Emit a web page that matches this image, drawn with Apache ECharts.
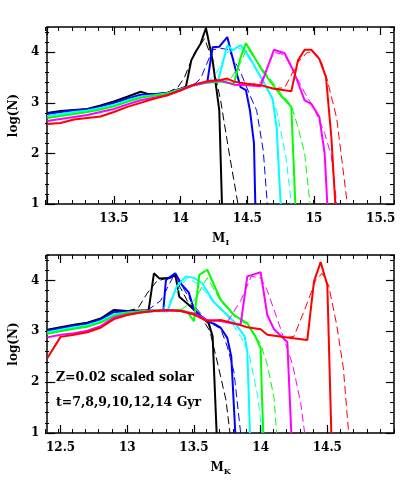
<!DOCTYPE html>
<html><head><meta charset="utf-8">
<script src="https://cdn.jsdelivr.net/npm/echarts@6/dist/echarts.min.js"></script>
<style>html,body{margin:0;padding:0;background:#fff}#c{width:415px;height:485px}</style>
</head><body><div id="c"></div>
<script>
// ---- Data ----
var ageNames = ['7 Gyr','8 Gyr','9 Gyr','10 Gyr','12 Gyr','14 Gyr'];
var ageColors = ['#000000','#0000ff','#00ffff','#00ff00','#ff00ff','#ff0000'];

// Top panel: M_I
var iBlack = [[13.0,2.80],[13.1,2.84],[13.2,2.86],[13.3,2.88],[13.4,2.95],[13.5,3.03],[13.6,3.12],[13.7,3.22],[13.75,3.18],[13.8,3.17],[13.9,3.20],[14.0,3.28],[14.04,3.32],[14.08,3.84],[14.12,4.04],[14.15,4.17],[14.19,4.48],[14.24,3.84],[14.29,2.85],[14.31,1.0]];
var iBlackD = [[13.9,3.20],[13.98,3.31],[14.03,3.51],[14.10,3.97],[14.18,4.27],[14.23,3.90],[14.30,3.05],[14.36,2.07],[14.43,1.0]];
var iBlue = [[13.0,2.78],[13.1,2.82],[13.2,2.85],[13.3,2.87],[13.4,2.93],[13.5,3.00],[13.6,3.08],[13.7,3.16],[13.8,3.17],[13.9,3.19],[14.0,3.27],[14.1,3.36],[14.2,3.41],[14.24,4.10],[14.29,4.11],[14.35,4.30],[14.41,3.68],[14.45,3.31],[14.49,3.25],[14.52,2.85],[14.55,2.2],[14.56,1.0]];
var iBlueD = [[14.1,3.36],[14.15,3.48],[14.24,4.05],[14.3,4.08],[14.36,4.05],[14.45,3.6],[14.52,3.15],[14.57,2.85],[14.62,2.05],[14.65,1.0]];
var iCyan = [[13.0,2.74],[13.1,2.78],[13.2,2.82],[13.3,2.85],[13.4,2.90],[13.5,2.96],[13.6,3.05],[13.7,3.12],[13.8,3.15],[13.9,3.19],[14.0,3.27],[14.1,3.35],[14.2,3.40],[14.28,3.42],[14.35,4.14],[14.39,4.04],[14.45,4.14],[14.5,3.97],[14.6,3.51],[14.69,3.08],[14.72,2.5],[14.75,1.0]];
var iCyanD = [[14.2,3.40],[14.27,3.6],[14.35,4.0],[14.45,4.08],[14.55,3.75],[14.65,3.3],[14.72,2.85],[14.79,1.93],[14.83,1.0]];
var iGreen = [[13.0,2.70],[13.1,2.74],[13.2,2.78],[13.3,2.82],[13.4,2.87],[13.5,2.93],[13.6,3.02],[13.7,3.10],[13.8,3.14],[13.9,3.18],[14.0,3.26],[14.1,3.35],[14.2,3.40],[14.3,3.42],[14.4,3.38],[14.45,3.90],[14.49,4.18],[14.62,3.61],[14.75,3.15],[14.83,2.92],[14.86,1.0]];
var iGreenD = [[14.3,3.42],[14.37,3.45],[14.45,3.8],[14.5,4.08],[14.62,3.65],[14.75,3.2],[14.83,2.95],[14.88,2.52],[14.93,2.0],[14.97,1.0]];
var iMagenta = [[13.0,2.64],[13.1,2.68],[13.2,2.72],[13.3,2.76],[13.4,2.82],[13.5,2.88],[13.6,2.97],[13.7,3.05],[13.8,3.10],[13.9,3.15],[14.0,3.25],[14.1,3.35],[14.2,3.41],[14.3,3.44],[14.4,3.36],[14.5,3.35],[14.6,3.33],[14.7,4.05],[14.78,3.98],[14.85,3.61],[14.93,3.05],[14.98,2.98],[15.04,2.72],[15.08,2.0],[15.1,1.0]];
var iMagentaD = [[14.5,3.35],[14.6,3.4],[14.7,4.0],[14.78,3.95],[14.85,3.6],[14.93,3.2],[15.0,2.9],[15.08,2.4],[15.13,1.95],[15.17,1.0]];
var iRed = [[13.0,2.58],[13.1,2.60],[13.2,2.67],[13.3,2.70],[13.4,2.73],[13.5,2.82],[13.6,2.92],[13.7,3.00],[13.8,3.08],[13.9,3.15],[14.0,3.25],[14.1,3.36],[14.2,3.43],[14.3,3.45],[14.35,3.48],[14.4,3.42],[14.5,3.38],[14.6,3.35],[14.7,3.28],[14.83,3.23],[14.88,3.84],[14.93,4.05],[14.98,4.05],[15.04,3.87],[15.09,3.51],[15.13,2.33],[15.16,1.0]];
var iRedD = [[14.7,3.28],[14.78,3.3],[14.88,3.8],[14.95,4.0],[15.0,4.0],[15.05,3.85],[15.1,3.45],[15.17,2.7],[15.25,1.0]];

// Bottom panel: M_K
var kBlack = [[12.4,3.03],[12.5,3.08],[12.6,3.13],[12.7,3.17],[12.8,3.25],[12.9,3.42],[13.0,3.40],[13.1,3.41],[13.16,3.41],[13.2,4.14],[13.24,4.04],[13.32,4.05],[13.36,4.12],[13.39,3.68],[13.46,3.52],[13.55,3.30],[13.61,3.16],[13.64,2.90],[13.67,1.0]];
var kBlackD = [[13.0,3.40],[13.08,3.45],[13.15,3.75],[13.22,3.98],[13.3,4.05],[13.35,4.1],[13.45,3.6],[13.55,3.3],[13.62,3.0],[13.68,2.34],[13.74,1.65],[13.77,1.0]];
var kBlue = [[12.4,3.01],[12.5,3.06],[12.6,3.11],[12.7,3.15],[12.8,3.23],[12.9,3.38],[13.0,3.39],[13.1,3.40],[13.2,3.41],[13.27,3.40],[13.29,4.01],[13.36,4.14],[13.41,3.91],[13.46,3.77],[13.5,3.43],[13.55,3.30],[13.61,3.18],[13.65,3.15],[13.7,3.07],[13.75,2.87],[13.78,2.5],[13.81,1.0]];
var kBlueD = [[13.15,3.41],[13.25,3.6],[13.35,4.1],[13.42,3.85],[13.5,3.5],[13.6,3.2],[13.7,3.05],[13.75,2.7],[13.8,2.2],[13.85,1.0]];
var kCyan = [[12.4,2.98],[12.5,3.03],[12.6,3.08],[12.7,3.12],[12.8,3.20],[12.9,3.33],[13.0,3.37],[13.1,3.39],[13.2,3.40],[13.3,3.39],[13.37,3.88],[13.44,4.08],[13.5,4.05],[13.56,3.95],[13.65,3.57],[13.75,3.32],[13.8,3.19],[13.88,2.9],[13.9,2.6],[13.92,1.0]];
var kCyanD = [[13.25,3.40],[13.32,3.6],[13.45,4.05],[13.55,3.9],[13.65,3.55],[13.75,3.3],[13.85,2.9],[13.915,2.54],[13.98,1.7],[14.01,1.0]];
var kGreen = [[12.4,2.95],[12.5,3.0],[12.6,3.05],[12.7,3.09],[12.8,3.17],[12.9,3.30],[13.0,3.36],[13.1,3.39],[13.2,3.41],[13.3,3.42],[13.4,3.42],[13.45,3.38],[13.5,3.2],[13.54,4.11],[13.6,4.21],[13.7,3.62],[13.8,3.32],[13.9,3.16],[13.96,2.9],[14.0,2.67],[14.01,1.7],[14.02,1.0]];
var kGreenD = [[13.4,3.42],[13.5,3.6],[13.6,4.05],[13.7,3.6],[13.8,3.3],[13.9,3.12],[14.0,2.75],[14.05,2.34],[14.1,1.7],[14.12,1.0]];
var kMagenta = [[12.4,2.88],[12.5,2.93],[12.6,2.96],[12.7,3.01],[12.8,3.10],[12.9,3.27],[13.0,3.33],[13.1,3.37],[13.2,3.40],[13.3,3.41],[13.4,3.40],[13.5,3.35],[13.6,3.22],[13.7,3.2],[13.8,3.15],[13.85,3.13],[13.9,4.08],[14.0,4.16],[14.05,3.32],[14.1,3.04],[14.2,2.79],[14.23,1.0]];
var kMagentaD = [[13.75,3.18],[13.85,3.6],[13.93,4.08],[14.0,4.05],[14.05,3.8],[14.15,3.05],[14.24,2.34],[14.3,1.6],[14.33,1.0]];
var kRed = [[12.4,2.47],[12.5,2.89],[12.6,2.93],[12.7,2.98],[12.8,3.07],[12.9,3.24],[13.0,3.32],[13.1,3.37],[13.2,3.40],[13.3,3.42],[13.4,3.40],[13.5,3.33],[13.6,3.20],[13.7,3.22],[13.8,3.16],[13.9,3.08],[14.0,3.04],[14.05,2.93],[14.2,2.88],[14.35,2.83],[14.4,3.98],[14.45,4.36],[14.5,3.91],[14.53,1.0]];
var kRedD = [[14.2,2.88],[14.25,2.9],[14.34,3.49],[14.41,3.99],[14.46,4.14],[14.51,3.9],[14.57,3.13],[14.62,2.28],[14.66,1.0]];

// Axis ticks / labels
var iXTicks = [13, 13.5, 14, 14.5, 15, 15.5];
var iXLabels = [13.5, 14, 14.5, 15, 15.5];
var kXTicks = [12.5, 13, 13.5, 14, 14.5];
var kXLabels = [12.5, 13, 13.5, 14, 14.5];
var yTicks = [1, 2, 3, 4];
var noteLines = ['Z=0.02 scaled solar', 't=7,8,9,10,12,14 Gyr'];

var iSolid = [iBlack, iBlue, iCyan, iGreen, iMagenta, iRed];
var iDash = [iBlackD, iBlueD, iCyanD, iGreenD, iMagentaD, iRedD];
var kSolid = [kBlack, kBlue, kCyan, kGreen, kMagenta, kRed];
var kDash = [kBlackD, kBlueD, kCyanD, kGreenD, kMagentaD, kRedD];

// ---- Chart ----
var FONT = 'DejaVu Serif';
var chart = echarts.init(document.getElementById('c'), null, {renderer: 'canvas'});
function fmt(v){ return String(+(+v).toFixed(2)); }

var TICK = {color: '#000', width: 1.2};
var rects = [{left: 45, top: 27, width: 349, height: 177}, {left: 45, top: 255, width: 349, height: 178}];
// grids 0,1: major ticks + data ; grids 2,3: same rectangles, minor ticks only
var grids = rects.concat(rects);

var xAxis = [], yAxis = [];
function majorX(gi, min, max, ticks, labels, sub) {
  var base = {gridIndex: gi, type: 'value', min: min, max: max, splitLine: {show: false}};
  xAxis.push(Object.assign({}, base, {position: 'bottom',
    axisLine: {show: true, onZero: false, lineStyle: {color: '#000', width: 1.5}},
    axisTick: {show: true, inside: true, length: 8, customValues: ticks, lineStyle: TICK},
    axisLabel: {show: true, customValues: labels, formatter: fmt, color: '#000', fontFamily: FONT, fontWeight: 'bold', fontSize: 12, margin: 9},
    name: '{m|M}{s|' + sub + '}', nameLocation: 'middle', nameGap: 27,
    nameTextStyle: {rich: {m: {fontFamily: FONT, fontWeight: 'bold', fontSize: 12, color: '#000'},
                           s: {fontFamily: FONT, fontWeight: 'bold', fontSize: 8, color: '#000', padding: [8, 0, 0, 0]}}}
  }));
  xAxis.push(Object.assign({}, base, {position: 'top',
    axisLine: {show: true, onZero: false, lineStyle: {color: '#000', width: 1.5}}, axisLabel: {show: false},
    axisTick: {show: true, inside: true, length: 8, customValues: ticks, lineStyle: TICK}}));
}
function minorX(gi, min, max) {
  ['bottom', 'top'].forEach(function (p) {
    xAxis.push({gridIndex: gi, type: 'value', min: min, max: max, interval: 0.1, position: p,
      splitLine: {show: false}, axisLine: {show: false, onZero: false}, axisLabel: {show: false},
      axisTick: {show: true, inside: true, length: 4, lineStyle: {color: '#000', width: 1}}});
  });
}
function majorY(gi) {
  var base = {gridIndex: gi, type: 'value', min: 1, max: 4.5, splitLine: {show: false}};
  yAxis.push(Object.assign({}, base, {position: 'left',
    axisLine: {show: true, onZero: false, lineStyle: {color: '#000', width: 1.5}},
    axisTick: {show: true, inside: true, length: 8, customValues: yTicks, lineStyle: TICK},
    axisLabel: {show: true, customValues: yTicks, color: '#000', fontFamily: FONT, fontWeight: 'bold', fontSize: 12, margin: 8},
    name: 'log(N)', nameLocation: 'middle', nameGap: 26,
    nameTextStyle: {fontFamily: FONT, fontWeight: 'bold', fontSize: 12, color: '#000'}}));
  yAxis.push(Object.assign({}, base, {position: 'right',
    axisLine: {show: true, onZero: false, lineStyle: {color: '#000', width: 1.5}}, axisLabel: {show: false},
    axisTick: {show: true, inside: true, length: 8, customValues: yTicks, lineStyle: TICK}}));
}
function minorY(gi) {
  ['left', 'right'].forEach(function (p) {
    yAxis.push({gridIndex: gi, type: 'value', min: 1, max: 4.5, interval: 0.2, position: p,
      splitLine: {show: false}, axisLine: {show: false, onZero: false}, axisLabel: {show: false},
      axisTick: {show: true, inside: true, length: 4, lineStyle: {color: '#000', width: 1}}});
  });
}
majorX(0, 13, 15.6, iXTicks, iXLabels, 'I');   // xAxis 0,1
majorX(1, 12.4, 15.0, kXTicks, kXLabels, 'K'); // xAxis 2,3
minorX(2, 13, 15.6);                            // xAxis 4,5
minorX(3, 12.4, 15.0);                          // xAxis 6,7
majorY(0); majorY(1); minorY(2); minorY(3);     // yAxis 0..7

var series = [];
function addSeries(solid, dash, xi, yi) {
  for (var i = 0; i < solid.length; i++) {
    series.push({type: 'line', name: ageNames[i], xAxisIndex: xi, yAxisIndex: yi, data: dash[i],
      showSymbol: false, symbol: 'none', silent: true, clip: true,
      lineStyle: {color: ageColors[i], width: 1, type: [8, 4]}});
    series.push({type: 'line', name: ageNames[i], xAxisIndex: xi, yAxisIndex: yi, data: solid[i],
      showSymbol: false, symbol: 'none', silent: true, clip: true,
      lineStyle: {color: ageColors[i], width: 2}});
  }
}
addSeries(iSolid, iDash, 0, 0);
addSeries(kSolid, kDash, 2, 2);
// empty series so the minor-tick grids are laid out
[4, 6].forEach(function (xi, j) {
  series.push({type: 'line', xAxisIndex: xi, yAxisIndex: 4 + 2 * j, data: [], silent: true});
});

chart.setOption({
  animation: false,
  backgroundColor: '#fff',
  grid: grids,
  xAxis: xAxis,
  yAxis: yAxis,
  series: series,
  graphic: noteLines.map(function (t, j) {
    return {type: 'text', left: 56, top: 371 + j * 25,
      style: {text: t, fill: '#000', font: 'bold 12.5px "' + FONT + '"'}};
  })
});
</script>
</body></html>
